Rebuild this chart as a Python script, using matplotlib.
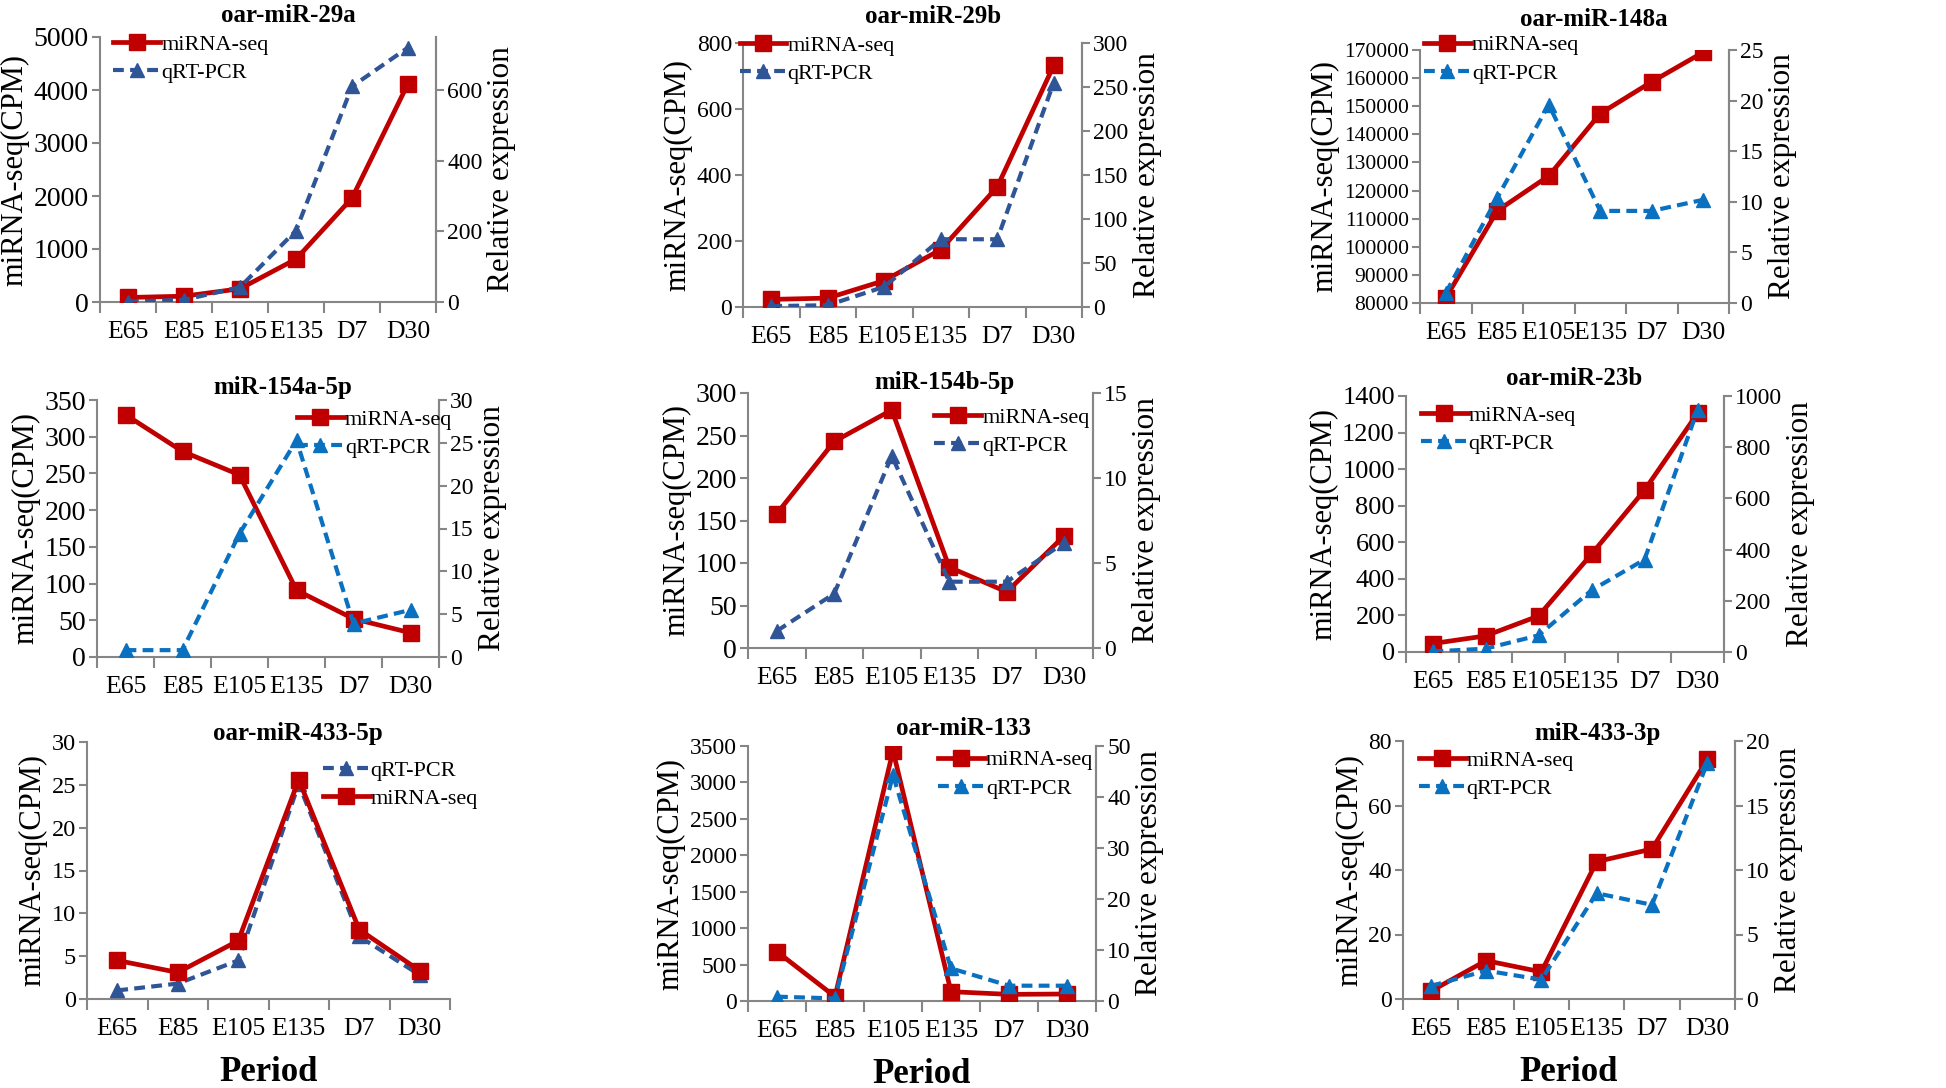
import matplotlib
matplotlib.use("Agg")
import matplotlib.pyplot as plt
from matplotlib.ticker import FixedLocator, NullFormatter

plt.rcParams.update({
    "font.family": ["Liberation Serif", "DejaVu Serif"],
    "axes.edgecolor": "#868686",
    "axes.linewidth": 1.5,
    "xtick.color": "#868686",
    "ytick.color": "#868686",
    "xtick.labelcolor": "black",
    "ytick.labelcolor": "black",
})

# ── data ──────────────────────────────────────────────────────────────────
periods = ["E65", "E85", "E105", "E135", "D7", "D30"]

titles = ["oar-miR-29a", "oar-miR-29b", "oar-miR-148a",
          "miR-154a-5p", "miR-154b-5p", "oar-miR-23b",
          "oar-miR-433-5p", "oar-miR-133", "miR-433-3p"]

# miRNA-seq (CPM), left axis
seq_29a = [85, 110, 250, 810, 1960, 4120]
seq_29b = [23, 27, 80, 174, 364, 732]
seq_148a = [81800, 112800, 125200, 147400, 158700, 169200]
seq_154a = [330, 280, 248, 91, 52, 33]
seq_154b = [158, 243, 280, 95, 66, 132]
seq_23b = [46, 88, 197, 535, 885, 1305]
seq_433_5p = [4.5, 3.1, 6.8, 25.6, 8.1, 3.3]
seq_133 = [677, 60, 3435, 128, 91, 96]
seq_433_3p = [2.4, 11.9, 8.4, 42.6, 46.5, 74.3]

# qRT-PCR relative expression, right axis
qrt_29a = [1, 6, 42, 202, 610, 720]
qrt_29b = [1, 2, 23, 77, 77, 255]
qrt_148a = [1.0, 10.4, 19.6, 9.1, 9.1, 10.2]
qrt_154a = [0.8, 0.8, 14.4, 25.3, 3.9, 5.5]
qrt_154b = [1.0, 3.2, 11.3, 3.9, 3.9, 6.2]
qrt_23b = [2, 13, 65, 241, 361, 945]
qrt_433_5p = [1.0, 1.8, 4.5, 25.1, 7.3, 2.8]
qrt_133 = [0.85, 0.5, 44.3, 6.4, 3.0, 3.0]
qrt_433_3p = [1.0, 2.2, 1.5, 8.2, 7.3, 18.3]

seq_all = [seq_29a, seq_29b, seq_148a, seq_154a, seq_154b, seq_23b,
           seq_433_5p, seq_133, seq_433_3p]
qrt_all = [qrt_29a, qrt_29b, qrt_148a, qrt_154a, qrt_154b, qrt_23b,
           qrt_433_5p, qrt_133, qrt_433_3p]

# axis ranges: (min, max, step)
left_axes = [(0, 5000, 1000), (0, 800, 200), (80000, 170000, 10000),
             (0, 350, 50), (0, 300, 50), (0, 1400, 200),
             (0, 30, 5), (0, 3500, 500), (0, 80, 20)]
right_axes = [(0, 750, 200), (0, 300, 50), (0, 25, 5),
              (0, 30, 5), (0, 15, 5), (0, 1000, 200),
              None, (0, 50, 10), (0, 20, 5)]

# ── layout (pixel boxes: left, top, right, bottom) ────────────────────────
W, H = 1946, 1088
boxes = [(100, 37, 436, 302), (743, 43, 1082, 307), (1420, 50, 1729, 303),
         (97, 400, 439, 657), (748, 393, 1093, 648), (1406, 396, 1724, 652),
         (87, 742, 450, 999), (748, 746, 1096, 1001), (1403, 741, 1735, 999)]
legend_anchor = [(0.04, 1.01), (-0.01, 1.03), (0.013, 1.06),
                 (0.585, 0.965), (0.54, 0.945), (0.047, 0.965),
                 (0.65, 0.93), (0.546, 0.985), (0.048, 0.965)]
title_pos = [(0.56, 1.083), (0.56, 1.10), (0.563, 1.12),
             (0.544, 1.047), (0.571, 1.04), (0.53, 1.07),
             (0.58, 1.035), (0.62, 1.07), (0.587, 1.03)]
ytick_size = [20, 17, 15.5, 20, 20, 19, 17.5, 17, 17]
dark_blue, light_blue = "#2F5597", "#0A70C0"
blues = [dark_blue, dark_blue, light_blue, light_blue, dark_blue,
         light_blue, dark_blue, light_blue, light_blue]
red = "#C00000"

fig = plt.figure(figsize=(W / 100, H / 100), dpi=100)

x = list(range(len(periods)))
for i in range(9):
    l, t, r, b = boxes[i]
    ax = fig.add_axes([l / W, 1 - b / H, (r - l) / W, (b - t) / H])
    lo, hi, st = left_axes[i]

    red_kw = dict(color=red, lw=3.4, marker="s", ms=11, label="miRNA-seq",
                  solid_joinstyle="miter")
    blue_kw = dict(color=blues[i], lw=3.0, ls=(0, (2.6, 1.5)), marker="^",
                   ms=10, label="qRT-PCR")

    if right_axes[i] is None:
        # single axis: qRT-PCR drawn under miRNA-seq
        ax.plot(x, qrt_all[i], zorder=3, **blue_kw)
        ax.plot(x, seq_all[i], zorder=4, **red_kw)
        handles, labels = ax.get_legend_handles_labels()
        ax.spines["right"].set_visible(False)
        leg_target = ax
    else:
        ax.plot(x, seq_all[i], zorder=3, **red_kw)
        ax2 = ax.twinx()
        ax2.plot(x, qrt_all[i], zorder=3, **blue_kw)
        rlo, rhi, rst = right_axes[i]
        ax2.set_ylim(rlo, rhi)
        ax2.set_yticks(list(range(rlo, rhi + 1, rst)))
        ax2.tick_params(axis="y", labelsize=17, length=6, width=1.5,
                        direction="out", pad=2)
        ax2.set_ylabel("Relative expression", fontsize=22.5, labelpad=3)
        for sp in ["top", "left", "bottom"]:
            ax2.spines[sp].set_visible(False)
        h1, l1 = ax.get_legend_handles_labels()
        h2, l2 = ax2.get_legend_handles_labels()
        handles, labels = h1 + h2, l1 + l2
        ax2.set_xlim(-0.5, len(periods) - 0.5)
        leg_target = ax2

    ax.set_ylim(lo, hi)
    ax.set_yticks(list(range(lo, hi + 1, st)))
    ax.set_xlim(-0.5, len(periods) - 0.5)
    ax.set_xticks(x)
    ax.set_xticklabels(periods)
    # category boundary ticks, Excel style
    ax.xaxis.set_minor_locator(FixedLocator([k - 0.5 for k in range(len(periods) + 1)]))
    ax.xaxis.set_minor_formatter(NullFormatter())
    ax.tick_params(axis="x", which="major", length=0, labelsize=18.5, pad=14)
    ax.tick_params(axis="x", which="minor", length=8, width=1.5, direction="out")
    ax.tick_params(axis="y", labelsize=ytick_size[i], length=6, width=1.5,
                   direction="out", pad=2)
    ax.spines["top"].set_visible(False)
    ax.set_ylabel("miRNA-seq(CPM)", fontsize=22, labelpad=3)

    leg_target.legend(handles, labels, loc="upper left",
                      bbox_to_anchor=legend_anchor[i],
                      bbox_transform=ax.transAxes, frameon=False,
                      fontsize=16, handlelength=2.1, handletextpad=0.05,
                      borderpad=0, borderaxespad=0, labelspacing=0.35,
                      numpoints=1)

    ax.text(title_pos[i][0], title_pos[i][1], titles[i], transform=ax.transAxes,
            ha="center", va="center", fontsize=18, fontweight="bold")

    if i >= 6:
        ax.set_xlabel("Period", fontsize=25, fontweight="bold", labelpad=11)

fig.savefig("out.png", dpi=100)
